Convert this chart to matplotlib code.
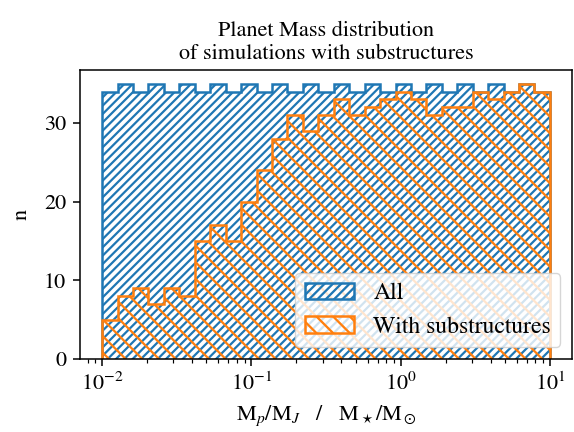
import numpy as np
import matplotlib
matplotlib.use('Agg')
import matplotlib.pyplot as plt

plt.rcParams['font.family'] = 'serif'
plt.rcParams['font.serif'] = ['STIXGeneral', 'Liberation Serif', 'DejaVu Serif']
plt.rcParams['mathtext.fontset'] = 'stix'
plt.rcParams['font.size'] = 16
plt.rcParams['hatch.linewidth'] = 1.6
plt.rcParams['axes.linewidth'] = 1.1
for ax_name in ('xtick', 'ytick'):
    plt.rcParams[ax_name + '.major.size'] = 5
    plt.rcParams[ax_name + '.major.width'] = 1.1
    plt.rcParams[ax_name + '.minor.size'] = 2.8
    plt.rcParams[ax_name + '.minor.width'] = 0.85
    plt.rcParams[ax_name + '.major.pad'] = 4.9

# 29 log-spaced bins between 1e-2 and 1e1
edges = np.logspace(-2, 1, 30)
centres = np.sqrt(edges[:-1] * edges[1:])

n_all = [34, 35, 34, 35, 34, 35, 34, 35, 34, 35, 34, 35, 34, 35, 34,
         35, 34, 35, 34, 35, 34, 35, 34, 35, 34, 35, 34, 35, 34]
n_sub = [5, 8, 9, 7, 9, 8, 15, 17, 15, 20, 24, 28, 31, 29, 31,
         33, 31, 32, 33, 34, 33, 31, 32, 32, 34, 33, 34, 35, 34]

fig = plt.figure(figsize=(5.74, 4.32), dpi=100)
ax = fig.add_axes([0.139, 0.169, 0.858, 0.669])

ax.hist(centres, bins=edges, weights=n_all, histtype='step', hatch='////',
        color='tab:blue', lw=1.8, label='All')
ax.hist(centres, bins=edges, weights=n_sub, histtype='step', hatch='\\\\',
        color='tab:orange', lw=1.8, label='With substructures')

ax.set_xscale('log')
ax.set_yticks([0, 10, 20, 30])
ax.set_xlabel(r'M$_p$/M$_J$   /   M$_\star$/M$_\odot$', labelpad=5.6)
ax.set_ylabel('n', labelpad=9)
ax.set_title('Planet Mass distribution\nof simulations with substructures',
             fontsize=16, pad=8)
ax.legend(loc='lower right', fontsize=17, handlelength=2.1)

fig.savefig('out.png', dpi=100)
